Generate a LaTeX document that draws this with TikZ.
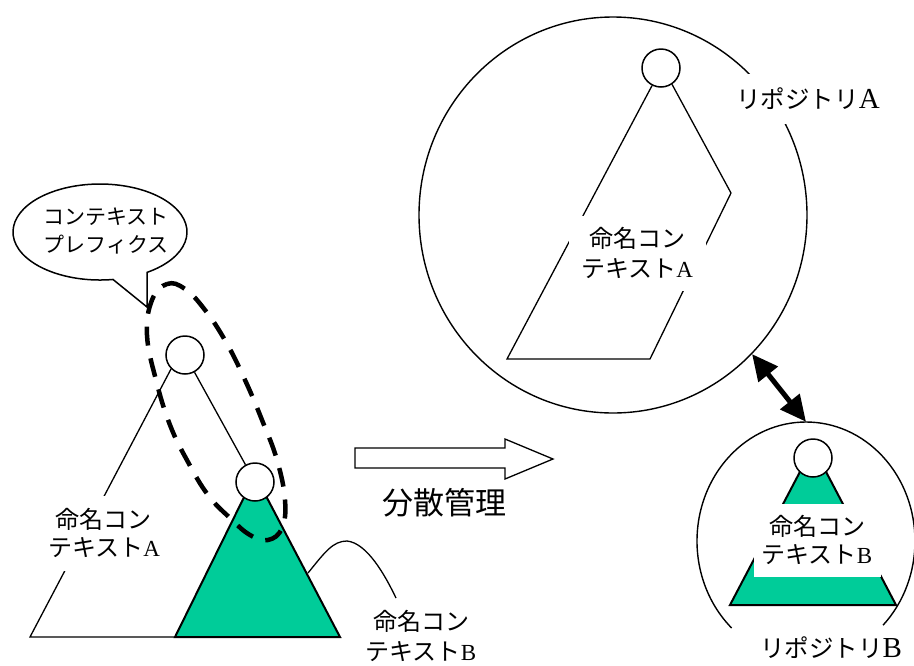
\documentclass[tikz,border=0pt]{standalone}
\usepackage{fontspec}
\setmainfont{Liberation Serif}
\newfontfamily\jpf{Noto Sans CJK JP}
\usetikzlibrary{arrows.meta,shapes.geometric}
\definecolor{ctxgreen}{RGB}{0,204,153}
\newcommand{\latinA}[1]{{\rmfamily\fontsize{23}{23}\selectfont #1}}
\newcommand{\repoLat}[1]{{\rmfamily\fontsize{29}{29}\selectfont #1}}
\begin{document}
\begin{tikzpicture}[x=1pt,y=-1pt,
  thinline/.style={line width=1.3pt},
  rootnode/.style={circle,draw,fill=white,minimum size=38pt,inner sep=0pt,line width=1.5pt},
  lbl/.style={font=\jpf\fontsize{24}{29}\selectfont,align=center,inner sep=0pt},
  repolbl/.style={font=\jpf\fontsize{24.5}{29}\selectfont,inner sep=0pt},
  repo/.style={ellipse,draw,line width=1.4pt,inner sep=0pt},
  greentri/.style={fill=ctxgreen,draw=black,line width=2pt,line join=miter},
  dashloop/.style={line width=4.5pt,dash pattern=on 19pt off 13pt},
  bigdouble/.style={line width=5pt,{Triangle[length=26pt,width=24pt]}-{Triangle[length=26pt,width=24pt]}}
]
\useasboundingbox (0,0) rectangle (914,665);

% ---------- left: callout bubble ----------
\draw[line width=1.5pt,fill=white] (147,272.4) arc[start angle=-57.3,end angle=278.6,x radius=87pt,y radius=48pt] -- (147,307) -- cycle;
\node[font=\jpf\fontsize{21}{28}\selectfont,align=center,inner sep=0pt] (bubtxt) at (106,231) {コンテキスト\\プレフィクス};

% ---------- left: naming contexts ----------
\draw[greentri] (255,475) -- (175,637) -- (340,637) -- cycle;
\node[rootnode] (c1) at (185,355) {};
\node[rootnode] (c2) at (255,482) {};
\draw[thinline] (c1.225) -- (30,637) -- (175,637);
\draw[thinline] (c1) -- (c2);
\node[lbl,font=\jpf\fontsize{24}{28}\selectfont,fill=white,inner xsep=3pt,minimum height=75pt] (ctxAl) at (104,533) {命名コン\\テキスト\latinA{A}};

% dashed prefix loop
\draw[dashloop] plot[smooth cycle,tension=0.7] coordinates {(152,300) (167,284) (185,289) (205,310) (226,342) (245,380) (262,420) (277,460) (285,500) (282,528) (268,540) (250,535) (230,518) (208,495) (188,462) (170,425) (156,380) (147,335)};

% label B with leader
\node[lbl,font=\jpf\fontsize{24}{30}\selectfont] (ctxBl) at (421,636) {命名コン\\テキスト\latinA{B}};
\coordinate (leadEnd) at (396,598);
\draw[thinline] (308,573) .. controls (325,552) and (333,541) .. (347,541) .. controls (367,543) and (385,575) .. (leadEnd);

% ---------- middle: block arrow ----------
\draw[thinline,line join=miter] (355,448) -- (505,448) -- (505,439) -- (553,459) -- (505,479) -- (505,468) -- (355,468) -- cycle;
\node[font=\jpf\fontsize{31}{36}\selectfont,inner sep=0pt] (dist) at (444,503) {分散管理};

% ---------- right: repository A ----------
\node[repo,minimum width=388pt,minimum height=396pt] (repA) at (613,215) {};
\node[rootnode] (rootA) at (661,68) {};
\draw[thinline] (rootA.243) -- (507,359) -- (650,359) -- (731,193) -- (rootA.-56);
\node[lbl,font=\jpf\fontsize{24}{30}\selectfont,fill=white,minimum width=137pt,minimum height=75pt] (ctxAr) at (637,253) {命名コン\\テキスト\latinA{A}};
\node[repolbl,fill=white,inner xsep=3pt,inner ysep=14pt] (labA) at (808,99) {リポジトリ\repoLat{A}};

% ---------- right: repository B ----------
\node[ellipse,minimum width=218pt,minimum height=238pt,inner sep=0pt] (repB) at (806,541) {};
\draw[line width=1.4pt] ([shift={(-45:109pt and 119pt)}]repB.center) arc[start angle=-45,end angle=227,x radius=109pt,y radius=119pt];
\draw[greentri] (813,447) -- (730,605) -- (896,605) -- cycle;
\node[lbl,font=\jpf\fontsize{24}{28}\selectfont,fill=white,minimum width=127pt,minimum height=73pt] (ctxBr) at (817,540) {命名コン\\テキスト\latinA{B}};
\node[rootnode] (rootB) at (813,458) {};
\node[repolbl] (labB) at (831,648) {リポジトリ\repoLat{B}};

% replication arrow
\draw[bigdouble] (repA.-45.6) -- (repB.north);
\end{tikzpicture}
\end{document}
